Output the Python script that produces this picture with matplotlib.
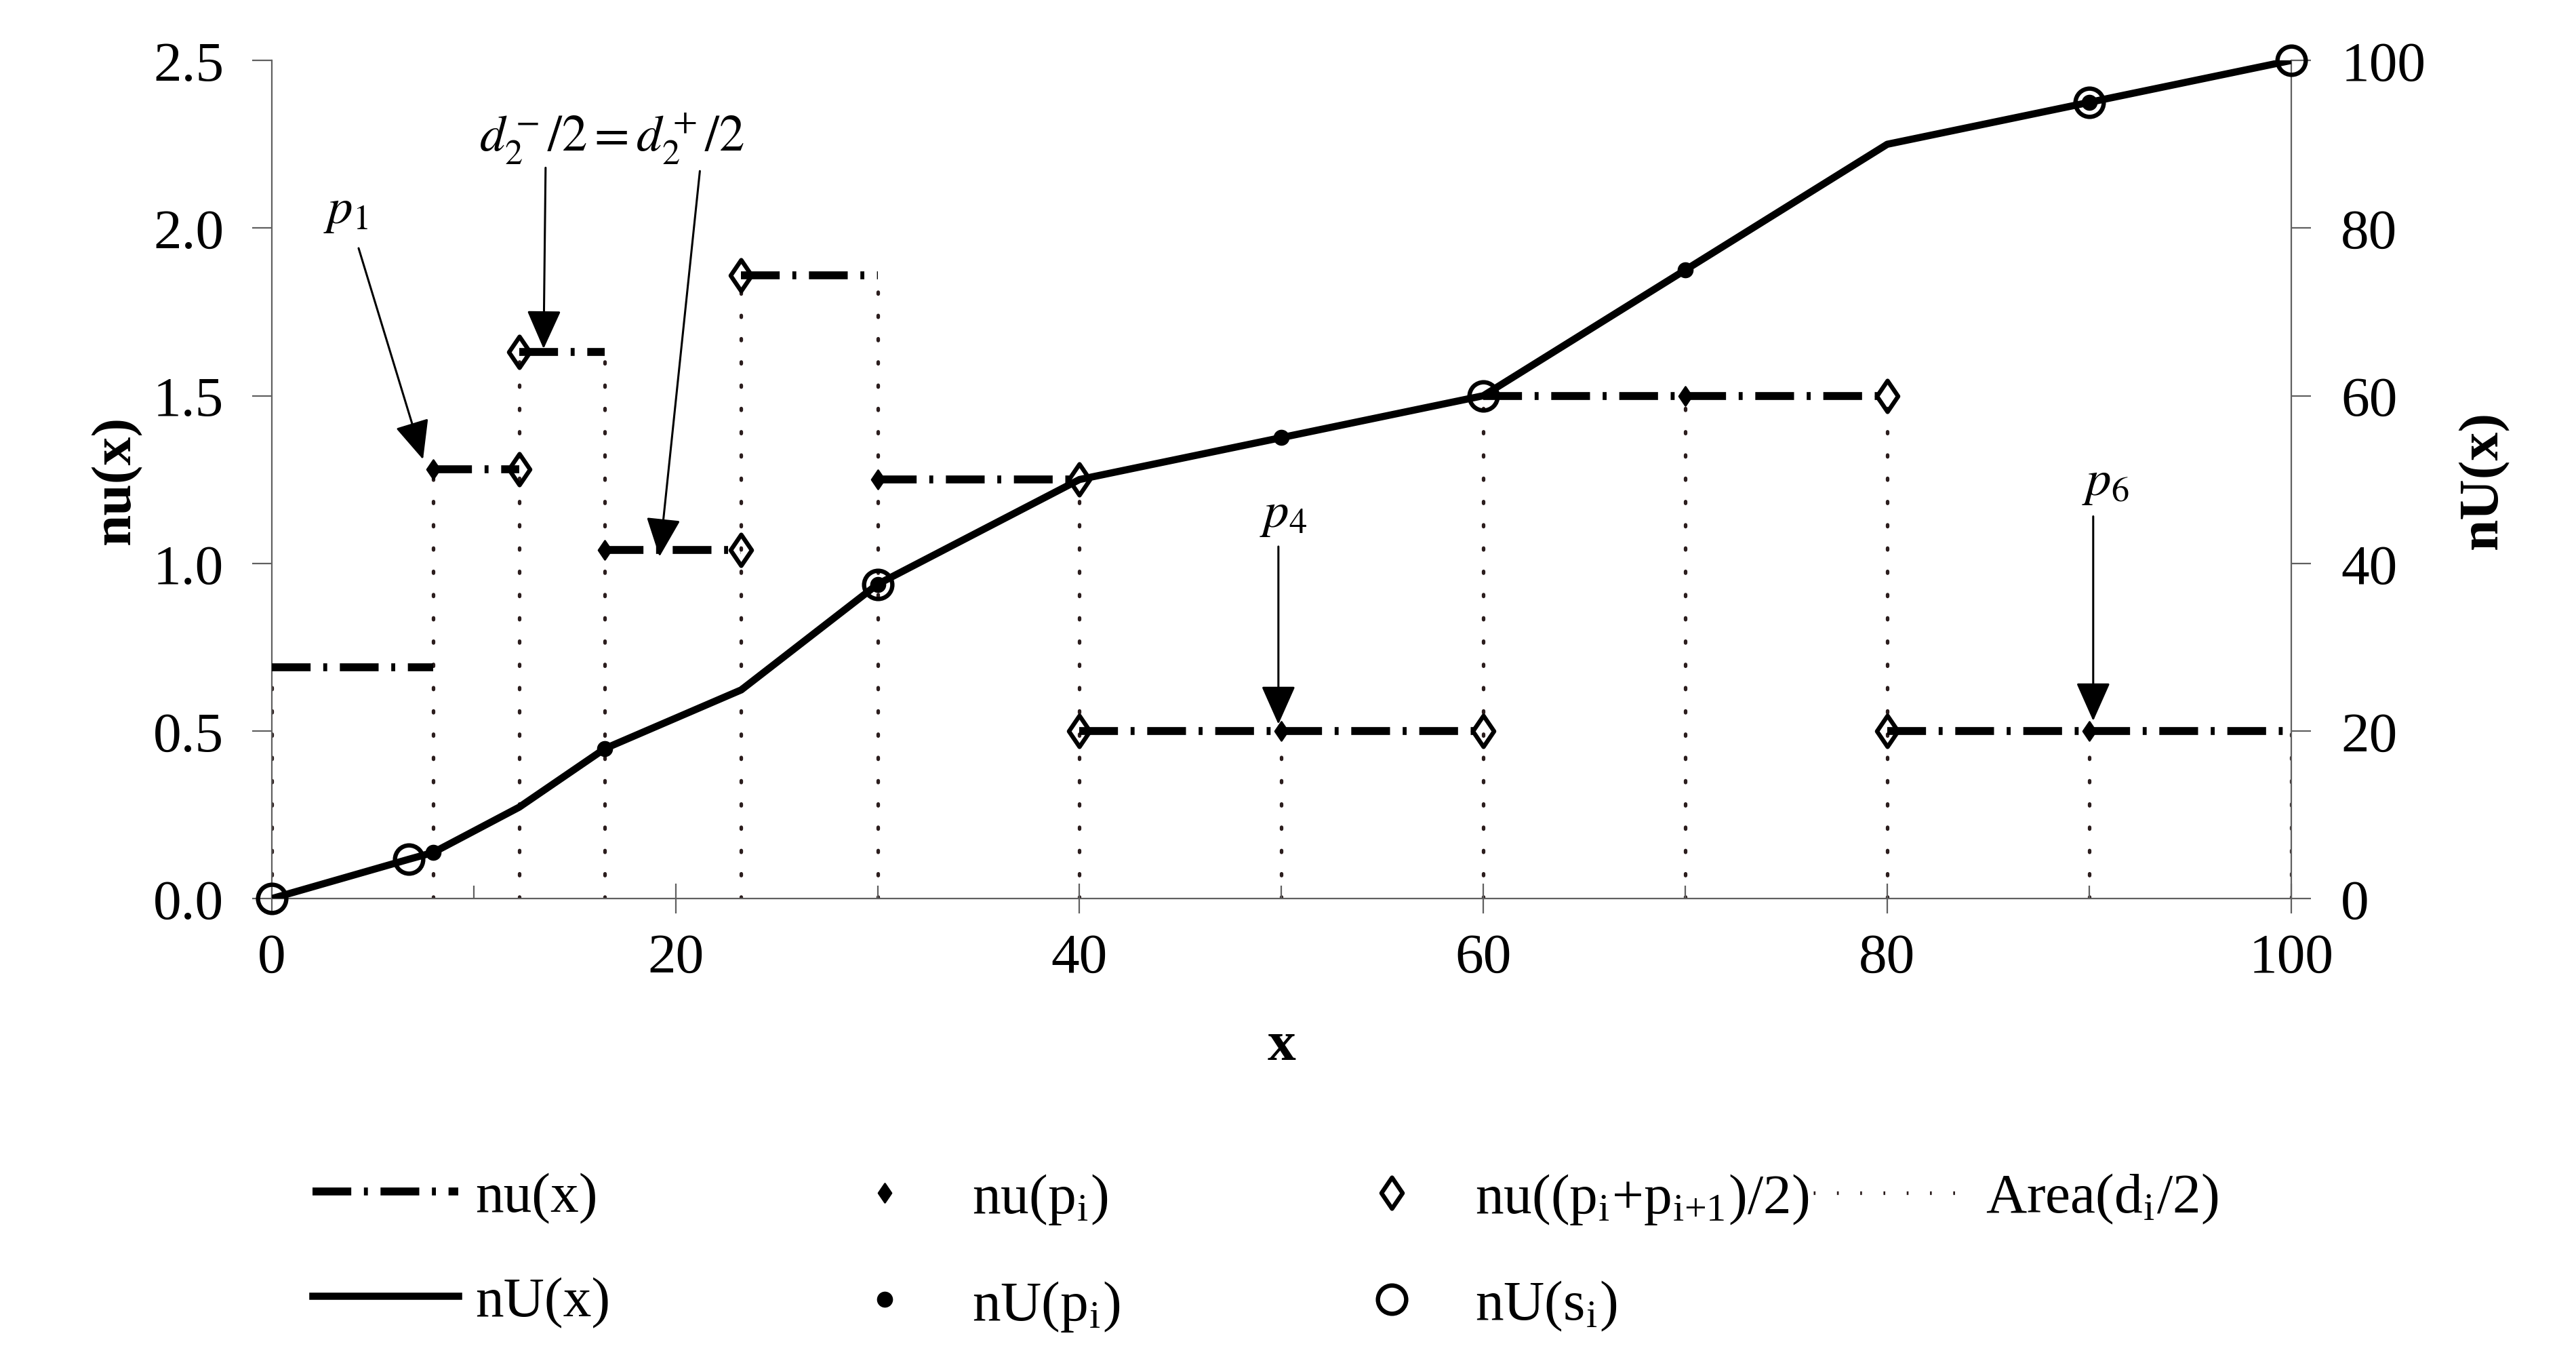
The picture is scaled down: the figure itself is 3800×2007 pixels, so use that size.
import matplotlib.pyplot as plt
from matplotlib.path import Path

plt.rcParams['font.family'] = 'Liberation Serif'
plt.rcParams['mathtext.fontset'] = 'stix'

# step function nu(x): one flat piece per interval
seg_start = [0, 8, 12.25, 16.5, 23.25, 30, 40, 60, 80]
seg_end = [8, 12.25, 16.5, 23.25, 30, 40, 60, 80, 100]
seg_nu = [0.69, 1.28, 1.63, 1.04, 1.86, 1.25, 0.5, 1.5, 0.5]

# points p_i
p_x = [8, 16.5, 30, 50, 70, 90]
nu_p = [1.28, 1.04, 1.25, 0.5, 1.5, 0.5]
nU_p = [5.5, 17.9, 37.5, 55, 75, 95]

# midpoints (p_i + p_i+1)/2
mid_x = [12.25, 12.25, 23.25, 23.25, 40, 40, 60, 80, 80]
nu_mid = [1.28, 1.63, 1.04, 1.86, 1.25, 0.5, 0.5, 1.5, 0.5]

# cumulative nU(x)
U_x = [0, 6.8, 8, 12.25, 16.5, 23.25, 30, 40, 50, 60, 70, 80, 90, 100]
U_y = [0, 4.7, 5.5, 10.9, 17.9, 24.9, 37.5, 50, 55, 60, 75, 90, 95, 100]

# s_i
s_x = [0, 6.8, 30, 60, 90, 100]
nU_s = [0, 4.7, 37.5, 60, 95, 100]

# dotted area borders
area_x = [0, 8, 12.25, 16.5, 23.25, 30, 40, 50, 60, 70, 80, 90, 100]
area_top = [0.69, 1.28, 1.63, 1.63, 1.86, 1.86, 1.25, 0.5, 1.5, 1.5, 1.5, 0.5, 0.5]

left_ticks = [0, 0.5, 1.0, 1.5, 2.0, 2.5]
right_ticks = [0, 20, 40, 60, 80, 100]
x_ticks = [0, 20, 40, 60, 80, 100]
x_minor = [10, 30, 50, 70, 90]

diamond = Path([(0, 1), (0.68, 0), (0, -1), (-0.68, 0), (0, 1)],
               [Path.MOVETO, Path.LINETO, Path.LINETO, Path.LINETO, Path.CLOSEPOLY])

fig = plt.figure(figsize=(19, 10.04), dpi=200)
ax = fig.add_axes([0.1055, 0.3396, 0.7839, 0.6155])
ax2 = ax.twinx()

dashdot = (0, (4.9, 1.6, 0.5, 1.6))
grey = '#606060'

# dotted area lines
area = ax.vlines(area_x, 0, area_top, colors='#2b1d1d', linestyles=(0, (0.5, 6)),
                 linewidth=1.9, capstyle='round', label='Area(d$_\\mathregular{i}$/2)', zorder=1)

nu_lines = []
for x0, x1, v in zip(seg_start, seg_end, seg_nu):
    ln, = ax.plot([x0, x1], [v, v], color='black', lw=4.2, linestyle=dashdot,
                  dash_capstyle='butt', zorder=3)
    nu_lines.append(ln)
nu_lines[0].set_label('nu(x)')

mid_m, = ax.plot(mid_x, nu_mid, linestyle='none', marker=diamond, markersize=16.5,
                 markerfacecolor='none', markeredgecolor='black', markeredgewidth=2.3,
                 label='nu((p$_\\mathregular{i}$+p$_\\mathregular{i{+}1}$)/2)', zorder=4)
p_m, = ax.plot(p_x, nu_p, linestyle='none', marker=diamond, markersize=10,
               color='black', label='nu(p$_\\mathregular{i}$)', zorder=5)

U_line, = ax2.plot(U_x, U_y, color='black', lw=3.8, solid_joinstyle='round', label='nU(x)', zorder=3)
Up_m, = ax2.plot(p_x, nU_p, linestyle='none', marker='o', markersize=7.5, color='black',
                 label='nU(p$_\\mathregular{i}$)', zorder=4)
s_m, = ax2.plot(s_x, nU_s, linestyle='none', marker='o', markersize=15, markerfacecolor='none',
                markeredgecolor='black', markeredgewidth=2.3, label='nU(s$_\\mathregular{i}$)',
                clip_on=False, zorder=5)

ax.set_xlim(0, 100)
ax.set_ylim(0, 2.5)
ax2.set_ylim(0, 100)

ax.set_xticks(x_ticks)
ax.set_xticks(x_minor, minor=True)
ax.set_yticks(left_ticks)
ax.set_yticklabels([f'{v:.1f}' for v in left_ticks])
ax2.set_yticks(right_ticks)

ax.tick_params(axis='x', which='major', direction='inout', length=16, width=0.8,
               color=grey, labelsize=30, pad=10)
ax.tick_params(axis='x', which='minor', direction='in', length=7, width=0.8, color=grey)
ax.tick_params(axis='y', direction='out', length=10.5, width=0.8, color=grey,
               labelsize=30, pad=15)
ax2.tick_params(axis='y', direction='out', length=10.5, width=0.8, color=grey,
                labelsize=30, pad=16)

for a in (ax, ax2):
    a.spines['top'].set_visible(False)
    for s in a.spines.values():
        s.set_color(grey)
        s.set_linewidth(0.8)
ax.spines['right'].set_visible(False)
ax2.spines['left'].set_visible(False)
ax2.spines['bottom'].set_visible(False)

ax.set_xlabel('x', fontsize=30, fontweight='bold')
ax.xaxis.set_label_coords(0.5, -0.1456)
ax.set_ylabel('nu(x)', fontsize=30, fontweight='bold')
ax.yaxis.set_label_coords(-0.0645, 0.5)
ax2.set_ylabel('nU(x)', fontsize=30, fontweight='bold')
ax2.yaxis.set_label_coords(1.0826, 0.5)

# annotations
arr = dict(arrowstyle='-|>,head_length=0.9,head_width=0.4', lw=1.1, color='black',
           shrinkA=0, shrinkB=0, mutation_scale=20)
ax.text(3.66, 2.05, '$p_1$', fontsize=27, ha='center', va='center')
ax.annotate('', xy=(7.49, 1.31), xytext=(4.3, 1.94), arrowprops=arr, zorder=6)
ax.text(16.85, 2.27, '$d_2^-/2 = d_2^+/2$', fontsize=27, ha='center', va='center')
ax.annotate('', xy=(13.46, 1.64), xytext=(13.56, 2.18), arrowprops=arr, zorder=6)
ax.annotate('', xy=(19.2, 1.02), xytext=(21.2, 2.17), arrowprops=arr, zorder=6)
ax.text(50.1, 1.145, '$p_4$', fontsize=27, ha='center', va='center')
ax.annotate('', xy=(49.85, 0.52), xytext=(49.85, 1.05), arrowprops=arr, zorder=6)
ax.text(90.8, 1.24, '$p_6$', fontsize=27, ha='center', va='center')
ax.annotate('', xy=(90.2, 0.53), xytext=(90.2, 1.14), arrowprops=arr, zorder=6)

# legend: one block per column
leg_y = 0.1389
common = dict(loc='upper left', frameon=False, fontsize=30, borderpad=0,
              borderaxespad=0, labelspacing=0.93, numpoints=1)
fig.legend(handles=[nu_lines[0], U_line], bbox_to_anchor=(0.1213, leg_y),
           handlelength=2.58, handletextpad=0.3, **common)
fig.legend(handles=[p_m, Up_m], bbox_to_anchor=(0.3216, leg_y),
           handlelength=2.0, handletextpad=0.54, **common)
fig.legend(handles=[mid_m, s_m], bbox_to_anchor=(0.5184, leg_y),
           handlelength=2.0, handletextpad=0.47, **common)
fig.legend(handles=[area], bbox_to_anchor=(0.7039, leg_y),
           handlelength=2.7, handletextpad=0.35, **common)

fig.savefig('out.png', dpi=200)
